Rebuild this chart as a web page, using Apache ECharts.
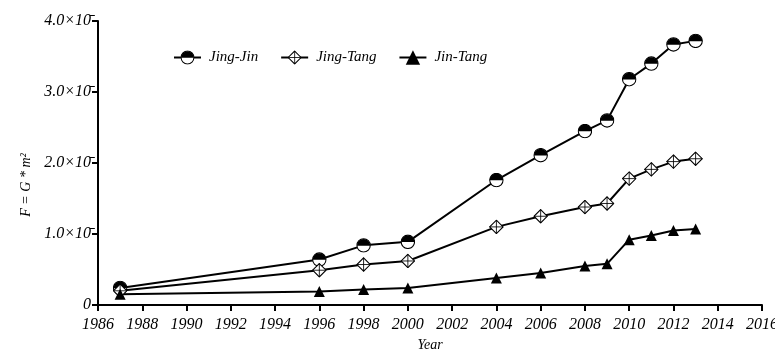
<!DOCTYPE html>
<html>
<head>
<meta charset="utf-8">
<script src="https://cdn.jsdelivr.net/npm/echarts@6/dist/echarts.min.js"></script>
<style>
  html, body { margin: 0; padding: 0; background: #fff; }
  #chart { width: 775px; height: 353px; }
</style>
</head>
<body>
<div id="chart"></div>
<script>
// Gravity-model strength F between city pairs, by year
const years = [1987, 1996, 1998, 2000, 2004, 2006, 2008, 2009, 2010, 2011, 2012, 2013];
const jingJin = [0.24, 0.64, 0.84, 0.89, 1.76, 2.11, 2.45, 2.60, 3.18, 3.40, 3.67, 3.72];
const jingTang = [0.20, 0.49, 0.57, 0.62, 1.10, 1.25, 1.38, 1.43, 1.78, 1.91, 2.02, 2.06];
const jinTang = [0.15, 0.19, 0.22, 0.24, 0.38, 0.45, 0.55, 0.58, 0.92, 0.98, 1.05, 1.07];
const seriesNames = ['Jing-Jin', 'Jing-Tang', 'Jin-Tang'];
const yTickLabels = ['0', '1.0×10\u0304', '2.0×10\u0304', '3.0×10\u0304', '4.0×10\u0304'];

const FONT = '"Liberation Serif", "DejaVu Serif", serif';

function svgSymbol(svg) {
  return 'image://data:image/svg+xml;charset=utf-8,' + encodeURIComponent(svg);
}
// circle, top half filled
const halfCircle = svgSymbol(
  "<svg xmlns='http://www.w3.org/2000/svg' width='28' height='28' viewBox='0 0 28 28'>" +
  "<circle cx='14' cy='14' r='12.5' fill='white' stroke='black' stroke-width='2'/>" +
  "<path d='M1.5 14.5 A12.5 12.5 0 0 1 26.5 14.5 Z' fill='black'/></svg>");
// diamond with cross inside
const crossDiamond = svgSymbol(
  "<svg xmlns='http://www.w3.org/2000/svg' width='28' height='28' viewBox='0 0 28 28'>" +
  "<path d='M14 1.5 L26.5 14 L14 26.5 L1.5 14 Z' fill='white' stroke='black' stroke-width='2'/>" +
  "<path d='M14 1.5 V26.5 M1.5 14 H26.5' stroke='black' stroke-width='1.6'/></svg>");

const pairs = arr => years.map((y, i) => [y, arr[i]]);

const chart = echarts.init(document.getElementById('chart'), null, { renderer: 'canvas' });

const lineBase = {
  type: 'line',
  lineStyle: { color: '#000', width: 2 },
  itemStyle: { color: '#000' },
  emphasis: { disabled: true },
  z: 3
};

chart.setOption({
  animation: false,
  backgroundColor: '#fff',
  grid: {
    left: 98, right: 13, top: 21, bottom: 48,
    containLabel: false,
    outerBoundsMode: 'none'
  },
  legend: {
    left: 168,
    top: 45,
    itemGap: 22,
    itemWidth: 27,
    itemHeight: 18,
    textStyle: {
      fontFamily: FONT, fontStyle: 'italic', fontSize: 15, color: '#000',
      padding: [0, 0, 0, 3]
    },
    data: seriesNames
  },
  xAxis: {
    type: 'value',
    min: 1986,
    max: 2016,
    interval: 2,
    name: 'Year',
    nameLocation: 'middle',
    nameGap: 33,
    nameTextStyle: { fontFamily: FONT, fontStyle: 'italic', fontSize: 14, color: '#000' },
    axisLine: { lineStyle: { color: '#000', width: 2 } },
    axisTick: { show: true, length: 6, lineStyle: { color: '#000', width: 2 } },
    axisLabel: {
      margin: 12,
      fontFamily: FONT, fontStyle: 'italic', fontSize: 16, color: '#000',
      formatter: v => String(v)
    },
    splitLine: { show: false }
  },
  yAxis: {
    type: 'value',
    min: 0,
    max: 4,
    interval: 1,
    name: 'F = G * m²',
    nameLocation: 'middle',
    nameGap: 64,
    nameRotate: 90,
    nameTextStyle: {
      fontFamily: FONT, fontStyle: 'italic', fontSize: 14, color: '#000',
      padding: [0, 44, 0, 0]
    },
    axisLine: { show: true, lineStyle: { color: '#000', width: 2 } },
    axisTick: { show: true, length: 6, lineStyle: { color: '#000', width: 2 } },
    axisLabel: {
      margin: 7,
      fontFamily: FONT, fontStyle: 'italic', fontSize: 16, color: '#000',
      formatter: v => yTickLabels[Math.round(v)]
    },
    splitLine: { show: false }
  },
  series: [
    Object.assign({}, lineBase, {
      name: seriesNames[0], data: pairs(jingJin),
      symbol: halfCircle, symbolSize: 15
    }),
    Object.assign({}, lineBase, {
      name: seriesNames[1], data: pairs(jingTang),
      symbol: crossDiamond, symbolSize: 15
    }),
    Object.assign({}, lineBase, {
      name: seriesNames[2], data: pairs(jinTang),
      symbol: 'triangle', symbolSize: 11
    })
  ]
});
</script>
</body>
</html>
